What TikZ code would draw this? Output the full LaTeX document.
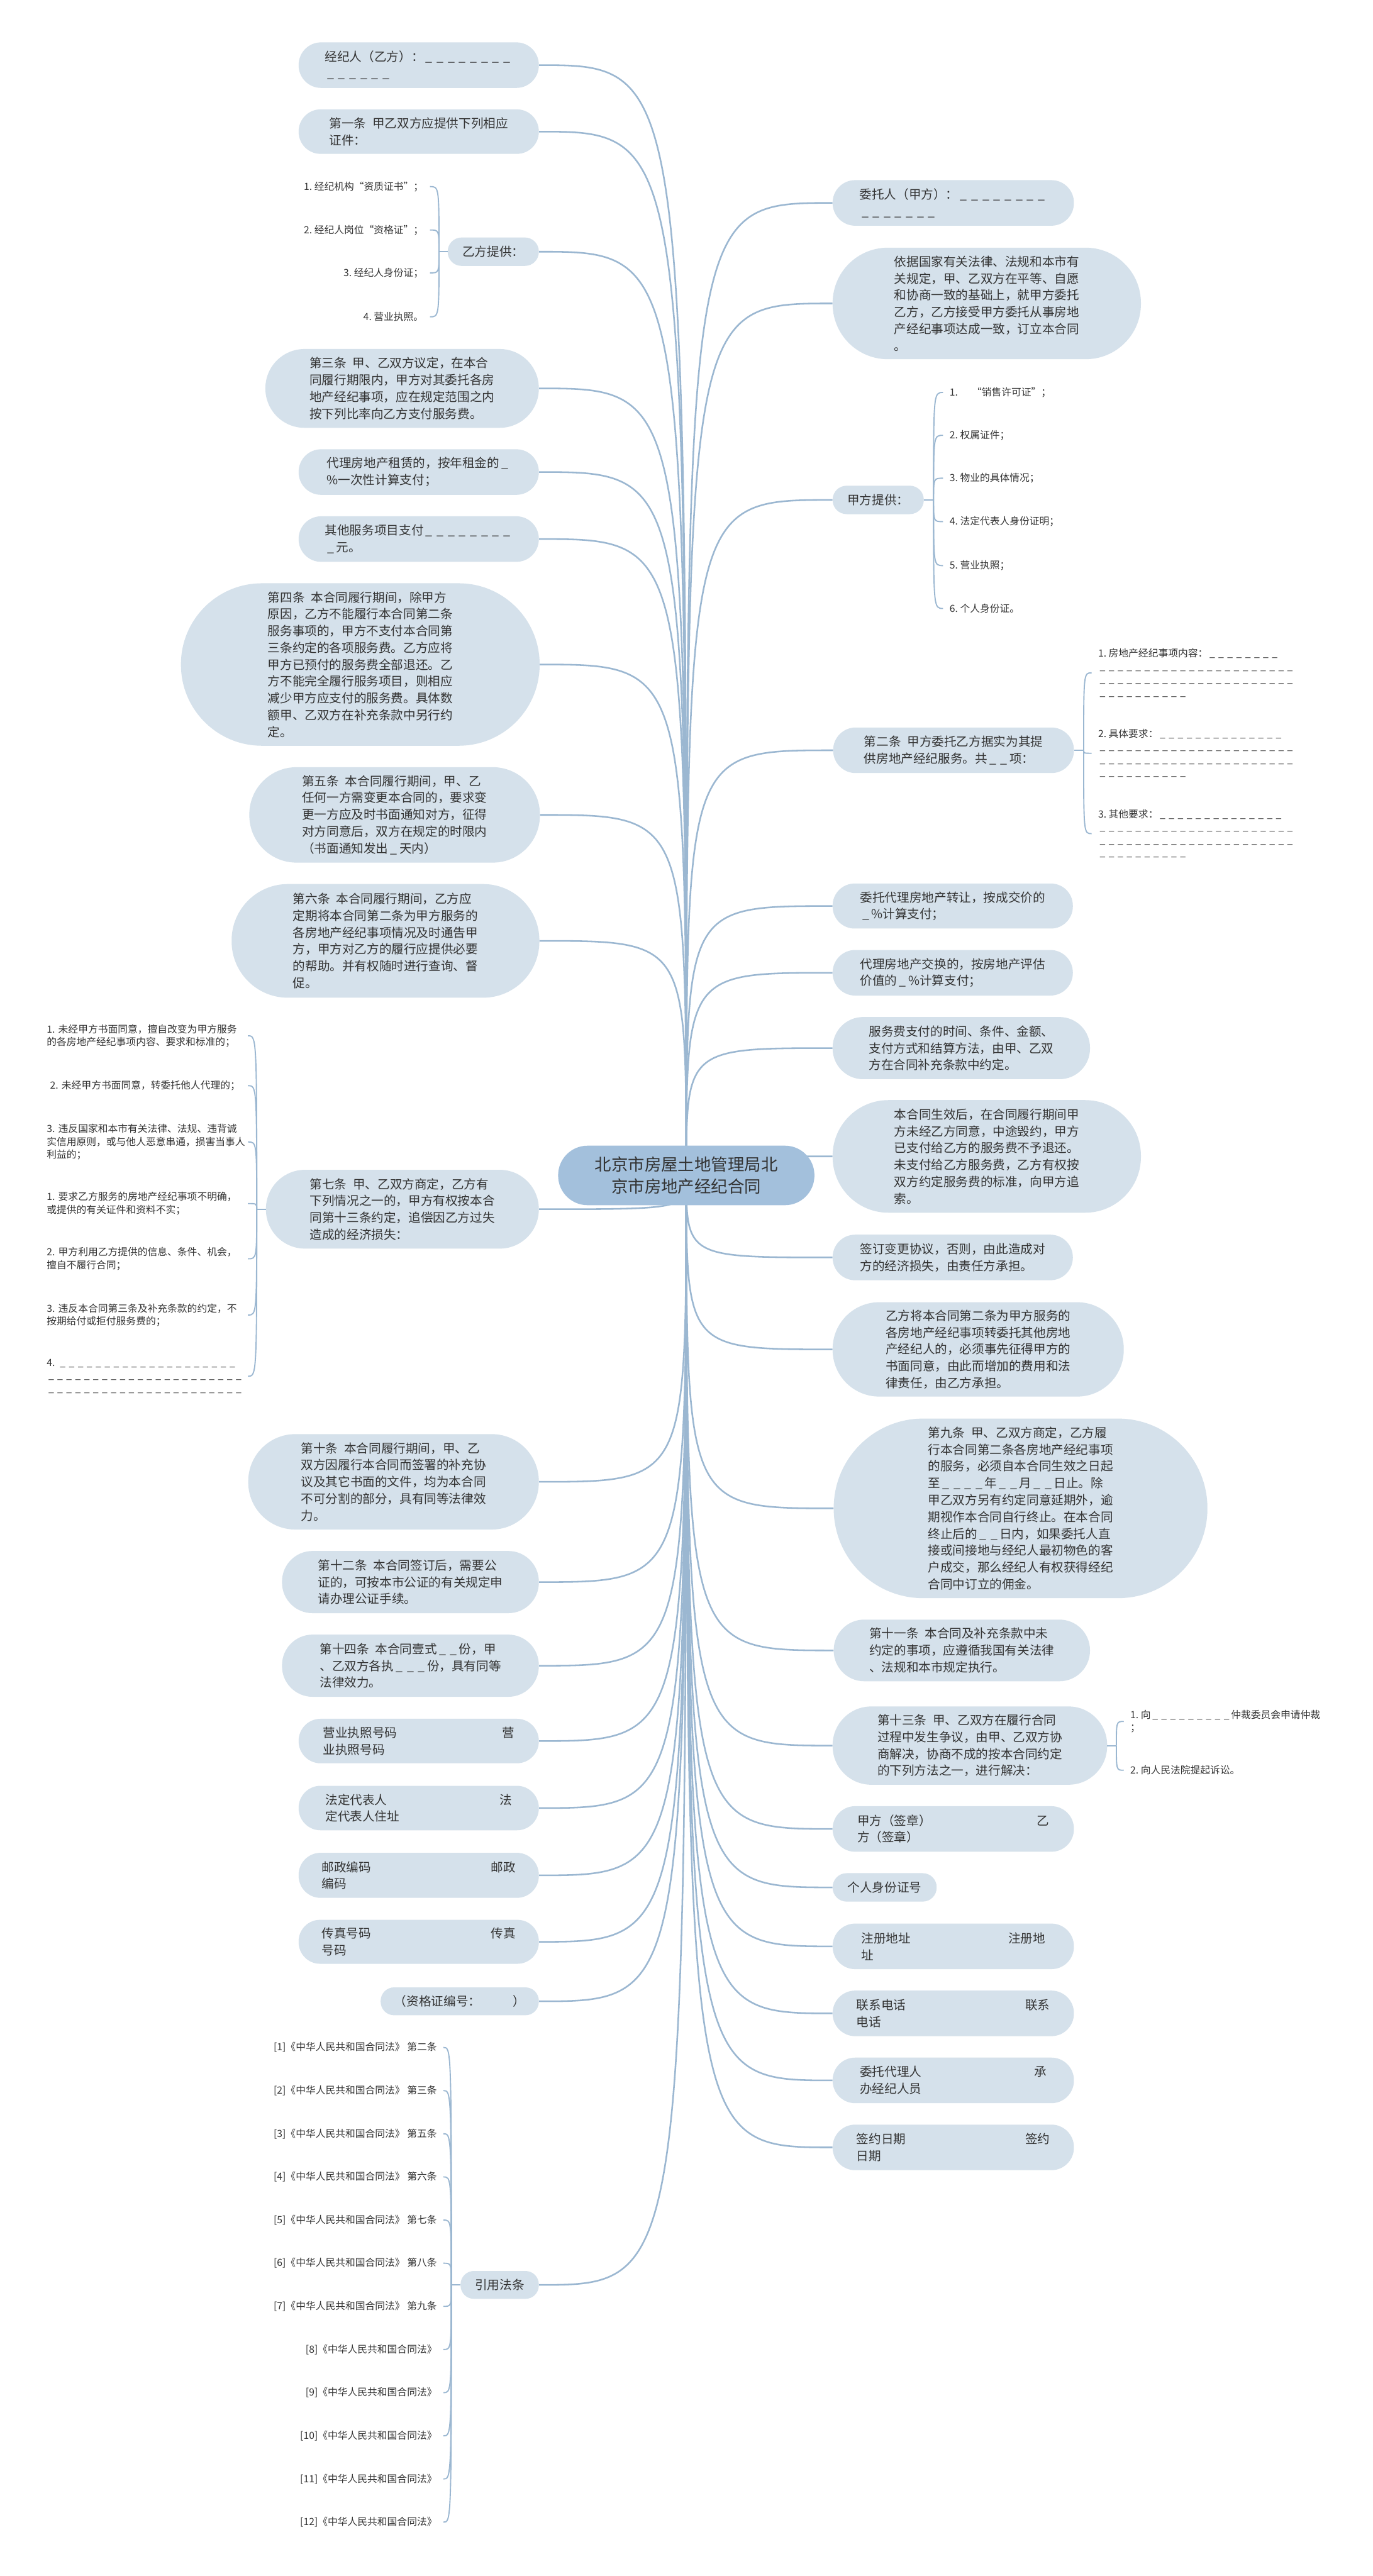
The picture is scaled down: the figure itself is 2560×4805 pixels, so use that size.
\documentclass[tikz,border=0pt]{standalone}
\usepackage{fontspec}
\setmainfont{Noto Sans CJK SC}
\usetikzlibrary{backgrounds}
\definecolor{nodefill}{RGB}{213,225,235}
\definecolor{cfill}{RGB}{163,192,220}
\definecolor{linec}{RGB}{155,183,209}
\definecolor{txt}{RGB}{51,51,51}
\newcommand\bk{\makebox[0.9em][c]{\_}}
\ExplSyntaxOn
\cs_new:Npn \bks #1 { \prg_replicate:nn {#1} { \bk } }
\ExplSyntaxOff
\newcommand\gp{\hspace{0.5em}}
\newcommand\mainsz{\fontsize{23}{31.4}\selectfont}
\newcommand\leafsz{\fontsize{18.5}{24}\selectfont}
\newcommand\ctrsz{\fontsize{31}{42}\selectfont}
\tikzset{
  box/.style={fill=nodefill, text=txt, font=\mainsz, align=left, inner sep=0pt},
  leaf/.style={text=txt, font=\leafsz, align=left, inner xsep=12pt, inner ysep=2pt},
  conn/.style={draw=linec, line width=3pt},
  brk/.style={draw=linec, line width=2.2pt},
}
\begin{document}
\begin{tikzpicture}[x=1pt,y=-1pt]
\useasboundingbox (0,0) rectangle (2560,4805);
\begin{scope}[on background layer]
\fill[white] (0,0) rectangle (2560,4805);
\end{scope}

% central node
\node[box, fill=cfill, font=\ctrsz, align=center, minimum width=478, minimum height=111, rounded corners=55] (ct) at (1280,2192.5) {北京市房屋土地管理局北\\京市房地产经纪合同};

% ---------- left side ----------
\node[box, minimum width=448, minimum height=85, rounded corners=42] (l1) at (781,121.5) {经纪人（乙方）：\bks{8}\\\bks{6}};
\node[box, minimum width=448, minimum height=83, rounded corners=41] (l2) at (781,245.5) {第一条\gp{}甲乙双方应提供下列相应\\证件：};
\node[box, minimum width=170, minimum height=53, rounded corners=26, align=center] (l3) at (920,469.5) {乙方提供：};
\node[box, minimum width=510, minimum height=147, rounded corners=73] (l4) at (750,724.5) {第三条\gp{}甲、乙双方议定，在本合\\同履行期限内，甲方对其委托各房\\地产经纪事项，应在规定范围之内\\按下列比率向乙方支付服务费。};
\node[box, minimum width=448, minimum height=85, rounded corners=42] (l5) at (781,880.5) {代理房地产租赁的，按年租金的\bk\\\%一次性计算支付；};
\node[box, minimum width=448, minimum height=85, rounded corners=42] (l6) at (781,1005.5) {其他服务项目支付\bks{8}\\\bk{}元。};
\node[box, minimum width=669, minimum height=303, rounded corners=151] (l7) at (672,1239.5) {第四条\gp{}本合同履行期间，除甲方\\原因，乙方不能履行本合同第二条\\服务事项的，甲方不支付本合同第\\三条约定的各项服务费。乙方应将\\甲方已预付的服务费全部退还。乙\\方不能完全履行服务项目，则相应\\减少甲方应支付的服务费。具体数\\额甲、乙双方在补充条款中另行约\\定。};
\node[box, minimum width=542, minimum height=178, rounded corners=88] (l8) at (736,1520) {第五条\gp{}本合同履行期间，甲、乙\\任何一方需变更本合同的，要求变\\更一方应及时书面通知对方，征得\\对方同意后，双方在规定的时限内\\（书面通知发出\bk{}天内）};
\node[box, minimum width=574, minimum height=212, rounded corners=105] (l9) at (719,1755) {第六条\gp{}本合同履行期间，乙方应\\定期将本合同第二条为甲方服务的\\各房地产经纪事项情况及时通告甲\\方，甲方对乙方的履行应提供必要\\的帮助。并有权随时进行查询、督\\促。};
\node[box, minimum width=509, minimum height=147, rounded corners=73] (l10) at (750.5,2255.5) {第七条\gp{}甲、乙双方商定，乙方有\\下列情况之一的，甲方有权按本合\\同第十三条约定，追偿因乙方过失\\造成的经济损失：};
\node[box, minimum width=542, minimum height=178, rounded corners=88] (l11) at (734,2764) {第十条\gp{}本合同履行期间，甲、乙\\双方因履行本合同而签署的补充协\\议及其它书面的文件，均为本合同\\不可分割的部分，具有同等法律效\\力。};
\node[box, minimum width=479, minimum height=116, rounded corners=57] (l12) at (765.5,2951) {第十二条\gp{}本合同签订后，需要公\\证的，可按本市公证的有关规定申\\请办理公证手续。};
\node[box, minimum width=479, minimum height=116, rounded corners=57] (l13) at (765.5,3107) {第十四条\gp{}本合同壹式\bks{2}份，甲\\、乙双方各执\bks{3}份，具有同等\\法律效力。};
\node[box, minimum width=448, minimum height=83, rounded corners=41] (l14) at (781,3247.5) {营业执照号码\hspace*{196pt}营\\业执照号码};
\node[box, minimum width=448, minimum height=83, rounded corners=41] (l15) at (781,3372.5) {法定代表人\hspace*{210pt}法\\定代表人住址};
\node[box, minimum width=448, minimum height=84, rounded corners=41] (l16) at (781,3498) {邮政编码\hspace*{224pt}邮政\\编码};
\node[box, minimum width=448, minimum height=82, rounded corners=40] (l17) at (781,3622) {传真号码\hspace*{224pt}传真\\号码};
\node[box, minimum width=295, minimum height=52, rounded corners=25, align=center] (l18) at (857.5,3733) {（资格证编号：\hspace*{60pt}）};
\node[box, minimum width=146, minimum height=52, rounded corners=25, align=center] (l19) at (932,4262) {引用法条};

% leaves of 乙方提供
\node[leaf, anchor=east] (yf1) at (802,348) {1.~经纪机构“资质证书”；};
\node[leaf, anchor=east] (yf2) at (802,429) {2.~经纪人岗位“资格证”；};
\node[leaf, anchor=east] (yf3) at (802,509) {3.~经纪人身份证；};
\node[leaf, anchor=east] (yf4) at (802,591) {4.~营业执照。};

% leaves of 第七条
\tikzset{qleaf/.style={leaf, text width=375, inner xsep=0pt, anchor=west}}
\node[qleaf] (q1) at (87,1932) {1.~未经甲方书面同意，擅自改变为甲方服务\\的各房地产经纪事项内容、要求和标准的；};
\node[qleaf] (q2) at (87,2025) {~2.~未经甲方书面同意，转委托他人代理的；};
\node[qleaf] (q3) at (87,2130) {3.~违反国家和本市有关法律、法规、违背诚\\实信用原则，或与他人恶意串通，损害当事人\\利益的；};
\node[qleaf] (q4) at (87,2245) {1.~要求乙方服务的房地产经纪事项不明确，\\或提供的有关证件和资料不实；};
\node[qleaf] (q5) at (87,2348) {2.~甲方利用乙方提供的信息、条件、机会，\\擅自不履行合同；};
\node[qleaf] (q6) at (87,2453) {3.~违反本合同第三条及补充条款的约定，不\\按期给付或拒付服务费的；};
\node[qleaf] (q7) at (87,2567) {4.~\bks{20}\\\bks{22}\\\bks{22}};

% leaves of 引用法条
\node[leaf, anchor=east] (y1) at (827,3819) {[1]《中华人民共和国合同法》~第二条};
\node[leaf, anchor=east] (y2) at (827,3899.5) {[2]《中华人民共和国合同法》~第三条};
\node[leaf, anchor=east] (y3) at (827,3980) {[3]《中华人民共和国合同法》~第五条};
\node[leaf, anchor=east] (y4) at (827,4060.5) {[4]《中华人民共和国合同法》~第六条};
\node[leaf, anchor=east] (y5) at (827,4141) {[5]《中华人民共和国合同法》~第七条};
\node[leaf, anchor=east] (y6) at (827,4221.5) {[6]《中华人民共和国合同法》~第八条};
\node[leaf, anchor=east] (y7) at (827,4302) {[7]《中华人民共和国合同法》~第九条};
\node[leaf, anchor=east] (y8) at (827,4382.5) {[8]《中华人民共和国合同法》};
\node[leaf, anchor=east] (y9) at (827,4463) {[9]《中华人民共和国合同法》};
\node[leaf, anchor=east] (y10) at (827,4543.5) {[10]《中华人民共和国合同法》};
\node[leaf, anchor=east] (y11) at (827,4624) {[11]《中华人民共和国合同法》};
\node[leaf, anchor=east] (y12) at (827,4704.5) {[12]《中华人民共和国合同法》};

% ---------- right side ----------
\node[box, minimum width=450, minimum height=85, rounded corners=42] (r1) at (1778,378.5) {委托人（甲方）：\bks{8}\\\bks{7}};
\node[box, minimum width=575, minimum height=208, rounded corners=103] (r2) at (1840.5,566) {依据国家有关法律、法规和本市有\\关规定，甲、乙双方在平等、自愿\\和协商一致的基础上，就甲方委托\\乙方，乙方接受甲方委托从事房地\\产经纪事项达成一致，订立本合同\\。};
\node[box, minimum width=170, minimum height=53, rounded corners=26, align=center] (r3) at (1638,932.5) {甲方提供：};
\node[box, minimum width=449, minimum height=85, rounded corners=42] (r4) at (1778.5,1399.5) {第二条\gp{}甲方委托乙方据实为其提\\供房地产经纪服务。共\bks{2}项：};
\node[box, minimum width=448, minimum height=84, rounded corners=41] (r5) at (1777,1690) {委托代理房地产转让，按成交价的\\\bk\%计算支付；};
\node[box, minimum width=448, minimum height=85, rounded corners=42] (r6) at (1777,1814.5) {代理房地产交换的，按房地产评估\\价值的\bk\%计算支付；};
\node[box, minimum width=480, minimum height=116, rounded corners=57] (r7) at (1793,1955) {服务费支付的时间、条件、金额、\\支付方式和结算方法，由甲、乙双\\方在合同补充条款中约定。};
\node[box, minimum width=575, minimum height=210, rounded corners=104] (r8) at (1840.5,2157) {本合同生效后，在合同履行期间甲\\方未经乙方同意，中途毁约，甲方\\已支付给乙方的服务费不予退还。\\未支付给乙方服务费，乙方有权按\\双方约定服务费的标准，向甲方追\\索。};
\node[box, minimum width=448, minimum height=85, rounded corners=42] (r9) at (1777,2345.5) {签订变更协议，否则，由此造成对\\方的经济损失，由责任方承担。};
\node[box, minimum width=543, minimum height=176, rounded corners=87] (r10) at (1824.5,2517) {乙方将本合同第二条为甲方服务的\\各房地产经纪事项转委托其他房地\\产经纪人的，必须事先征得甲方的\\书面同意，由此而增加的费用和法\\律责任，由乙方承担。};
\node[box, minimum width=697, minimum height=335, rounded corners=167] (r11) at (1903.5,2813.5) {第九条\gp{}甲、乙双方商定，乙方履\\行本合同第二条各房地产经纪事项\\的服务，必须自本合同生效之日起\\至\bks{4}年\bks{2}月\bks{2}日止。除\\甲乙双方另有约定同意延期外，逾\\期视作本合同自行终止。在本合同\\终止后的\bks{2}日内，如果委托人直\\接或间接地与经纪人最初物色的客\\户成交，那么经纪人有权获得经纪\\合同中订立的佣金。};
\node[box, minimum width=478, minimum height=115, rounded corners=57] (r12) at (1794,3078.5) {第十一条\gp{}本合同及补充条款中未\\约定的事项，应遵循我国有关法律\\、法规和本市规定执行。};
\node[box, minimum width=512, minimum height=146, rounded corners=72] (r13) at (1809,3256) {第十三条\gp{}甲、乙双方在履行合同\\过程中发生争议，由甲、乙双方协\\商解决，协商不成的按本合同约定\\的下列方法之一，进行解决：};
\node[box, minimum width=450, minimum height=85, rounded corners=42] (r14) at (1778,3411.5) {甲方（签章）\hspace*{197pt}乙\\方（签章）};
\node[box, minimum width=194, minimum height=53, rounded corners=26, align=center] (r15) at (1650,3520.5) {个人身份证号};
\node[box, minimum width=450, minimum height=85, rounded corners=42] (r16) at (1778,3630.5) {注册地址\hspace*{182pt}注册地\\址};
\node[box, minimum width=450, minimum height=85, rounded corners=42] (r17) at (1778,3755.5) {联系电话\hspace*{223pt}联系\\电话};
\node[box, minimum width=450, minimum height=85, rounded corners=42] (r18) at (1778,3880.5) {委托代理人\hspace*{210pt}承\\办经纪人员};
\node[box, minimum width=450, minimum height=85, rounded corners=42] (r19) at (1778,4005.5) {签约日期\hspace*{223pt}签约\\日期};

% leaves of 甲方提供
\node[leaf, anchor=west] (jf1) at (1759,732) {1.\hspace{1.4em}“销售许可证”；};
\node[leaf, anchor=west] (jf2) at (1759,812) {2.~权属证件；};
\node[leaf, anchor=west] (jf3) at (1759,892) {3.~物业的具体情况；};
\node[leaf, anchor=west] (jf4) at (1759,973) {4.~法定代表人身份证明；};
\node[leaf, anchor=west] (jf5) at (1759,1055) {5.~营业执照；};
\node[leaf, anchor=west] (jf6) at (1759,1135) {6.~个人身份证。};

% leaves of 第二条
\node[leaf, anchor=west] (e1) at (2036,1255) {1.~房地产经纪事项内容：\bks{8}\\\bks{22}\\\bks{22}\\\bks{10}};
\node[leaf, anchor=west] (e2) at (2036,1405) {2.~具体要求：\bks{14}\\\bks{22}\\\bks{22}\\\bks{10}};
\node[leaf, anchor=west] (e3) at (2036,1555) {3.~其他要求：\bks{14}\\\bks{22}\\\bks{22}\\\bks{10}};

% leaves of 第十三条
\node[leaf, anchor=west] (f1) at (2096,3211) {1.~向\bks{9}仲裁委员会申请仲裁\\；};
\node[leaf, anchor=west] (f2) at (2096,3302) {2.~向人民法院提起诉讼。};

% ---------- connectors ----------
\begin{scope}[on background layer]
\foreach \n in {l1,l2,l3,l4,l5,l6,l7,l8,l9,l10,l11,l12,l13,l14,l15,l16,l17,l18,l19}
  \draw[conn] (ct.center) .. controls (ct.center |- \n.east) .. (\n.east);
\foreach \n in {r1,r2,r3,r4,r5,r6,r7,r8,r9,r10,r11,r12,r13,r14,r15,r16,r17,r18,r19}
  \draw[conn] (ct.center) .. controls (ct.center |- \n.west) .. (\n.west);
\end{scope}

\draw[brk] (l3.west) -- ++(-16,0) coordinate (yj);
\foreach \n in {yf1,yf2,yf3,yf4}
  \draw[brk] (yj) .. controls (yj |- \n.east) .. (\n.east);

\draw[brk] (l10.west) -- ++(-17,0) coordinate (qj);
\foreach \n in {q1,q2,q3,q4,q5,q6,q7}
  \draw[brk] (qj) .. controls (qj |- \n.east) .. (\n.east);

\draw[brk] (l19.west) -- ++(-17,0) coordinate (lj);
\foreach \n in {y1,y2,y3,y4,y5,y6,y7,y8,y9,y10,y11,y12}
  \draw[brk] (lj) .. controls (lj |- \n.east) .. (\n.east);

\draw[brk] (r3.east) -- ++(18,0) coordinate (jj);
\foreach \n in {jf1,jf2,jf3,jf4,jf5,jf6}
  \draw[brk] (jj) .. controls (jj |- \n.west) .. (\n.west);

\draw[brk] (r4.east) -- ++(18,0) coordinate (ej);
\foreach \n in {e1,e2,e3}
  \draw[brk] (ej) .. controls (ej |- \n.west) .. (\n.west);

\draw[brk] (r13.east) -- ++(17,0) coordinate (fj);
\foreach \n in {f1,f2}
  \draw[brk] (fj) .. controls (fj |- \n.west) .. (\n.west);
\end{tikzpicture}
\end{document}
